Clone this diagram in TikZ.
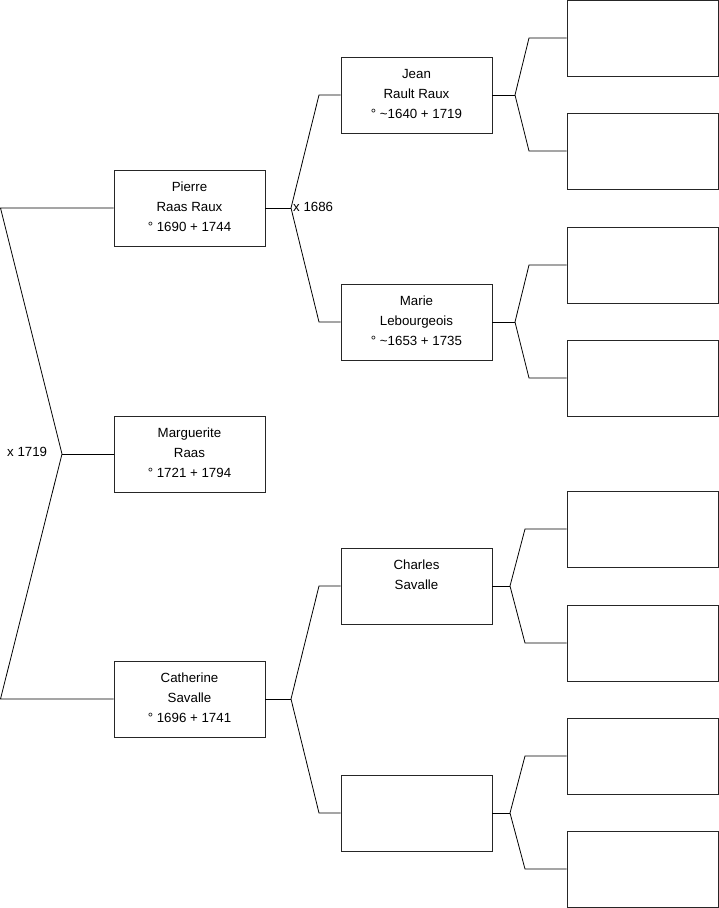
\documentclass[tikz,border=0pt]{standalone}
\usepackage{fontspec}
\setmainfont{Liberation Sans}
\begin{document}
\begin{tikzpicture}[x=1pt,y=-1pt,
  pbox/.style={draw=black!85,line width=0.9pt,minimum width=151pt,minimum height=76pt,inner sep=0pt},
  ptxt/.style={anchor=north,align=center,inner sep=0pt,font=\fontsize{13.3}{20}\selectfont},
  mtxt/.style={inner sep=0pt,font=\fontsize{13.3}{20}\selectfont},
  wire/.style={draw=black,line width=0.8pt}]
\useasboundingbox (0,0) rectangle (719,908);
% generation 1-2
\node[pbox] (pierre) at (189.5,208) {};
\node[ptxt] (pierret) at ([yshift=-8]pierre.north) {\strut Pierre\\Raas Raux\\° 1690 + 1744};
\node[pbox] (marg) at (189.5,454) {};
\node[ptxt] (margt) at ([yshift=-8]marg.north) {\strut Marguerite\\Raas\\° 1721 + 1794};
\node[pbox] (cath) at (189.5,699) {};
\node[ptxt] (catht) at ([yshift=-8]cath.north) {\strut Catherine\\Savalle\\° 1696 + 1741};
% generation 3
\node[pbox] (jean) at (416.5,95) {};
\node[ptxt] (jeant) at ([yshift=-8]jean.north) {\strut Jean\\Rault Raux\\° \textasciitilde 1640 + 1719};
\node[pbox] (marie) at (416.5,322) {};
\node[ptxt] (mariet) at ([yshift=-8]marie.north) {\strut Marie\\Lebourgeois\\° \textasciitilde 1653 + 1735};
\node[pbox] (charles) at (416.5,586) {};
\node[ptxt] (charlest) at ([yshift=-8]charles.north) {\strut Charles\\Savalle};
\node[pbox] (unk) at (416.5,813) {};
% generation 4
\node[pbox] (a1) at (642.5,38) {};
\node[pbox] (a2) at (642.5,151) {};
\node[pbox] (a3) at (642.5,265) {};
\node[pbox] (a4) at (642.5,378) {};
\node[pbox] (a5) at (642.5,529) {};
\node[pbox] (a6) at (642.5,643) {};
\node[pbox] (a7) at (642.5,756) {};
\node[pbox] (a8) at (642.5,869) {};
% forks
\coordinate (l1) at (0.5,208);
\coordinate (fm) at (62,454);
\coordinate (l2) at (0.5,699);
\coordinate (fp) at (291,208);
\coordinate (fc) at (291,699);
\coordinate (fj) at (515,95);
\coordinate (fma) at (515,322);
\coordinate (fch) at (510,586);
\coordinate (fu) at (510,813);
% connectors
\draw[wire] (pierre.west) -- (l1) -- (fm) -- (l2) -- (cath.west);
\draw[wire] (fm) -- (marg.west);
\draw[wire] (pierre.east) -- (fp);
\draw[wire] (fp) -- (319,95) -- (jean.west);
\draw[wire] (fp) -- (319,322) -- (marie.west);
\draw[wire] (cath.east) -- (fc);
\draw[wire] (fc) -- (319,586) -- (charles.west);
\draw[wire] (fc) -- (319,813) -- (unk.west);
\draw[wire] (jean.east) -- (fj);
\draw[wire] (fj) -- (529,38) -- (a1.west);
\draw[wire] (fj) -- (529,151) -- (a2.west);
\draw[wire] (marie.east) -- (fma);
\draw[wire] (fma) -- (529,265) -- (a3.west);
\draw[wire] (fma) -- (529,378) -- (a4.west);
\draw[wire] (charles.east) -- (fch);
\draw[wire] (fch) -- (525,529) -- (a5.west);
\draw[wire] (fch) -- (525,643) -- (a6.west);
\draw[wire] (unk.east) -- (fu);
\draw[wire] (fu) -- (525,756) -- (a7.west);
\draw[wire] (fu) -- (525,869) -- (a8.west);
% marriage labels
\node[mtxt,anchor=base west] (m1686) at (293,211.5) {x 1686};
\node[mtxt,anchor=base west] (m1719) at (7,456) {x 1719};
\end{tikzpicture}
\end{document}
